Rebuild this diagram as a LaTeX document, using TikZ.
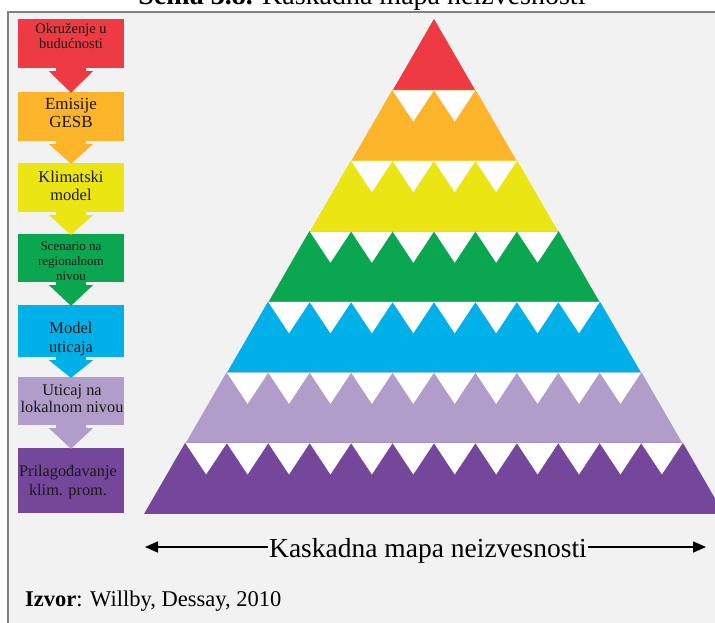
\documentclass[tikz,border=0pt]{standalone}
\usepackage{fontspec}
\setmainfont{Liberation Serif}
\usetikzlibrary{calc,arrows.meta}

\definecolor{cRed}{RGB}{238,59,67}
\definecolor{cOrange}{RGB}{252,181,43}
\definecolor{cYellow}{RGB}{236,229,20}
\definecolor{cGreen}{RGB}{10,166,80}
\definecolor{cBlue}{RGB}{0,176,233}
\definecolor{cLav}{RGB}{176,157,201}
\definecolor{cPurple}{RGB}{116,71,154}
\definecolor{frameGray}{RGB}{128,128,128}
\definecolor{panelBg}{RGB}{242,242,242}

\tikzset{
  stagebox/.style={rectangle, inner sep=0pt, minimum width=106pt},
  stagetext/.style={inner sep=0pt, align=center, text=black!90},
  fsz/.style 2 args={font={\fontsize{#1}{#2}\selectfont}},
  caparrow/.style={line width=1.6pt, -{Triangle[length=13pt,width=11pt]}},
}

% block arrow from the bottom of one stage box to the top of the next
\newcommand\stagearrow[3]{%
  \fill[#3] ($(#1.south)+(-15,0)$) -- ($(#1.south)+(15,0)$)
    -- ($(#1.south)+(15,3)$) -- ($(#1.south)+(22,3)$)
    -- ($(#2.north)+(0,1)$)
    -- ($(#1.south)+(-22,3)$) -- ($(#1.south)+(-15,3)$) -- cycle;}

\begin{document}
\begin{tikzpicture}[x=1pt,y=-1pt]
\useasboundingbox (0,0) rectangle (715,622);
\clip (0,0) rectangle (715,622);
\fill[white] (0,0) rectangle (715,622);

% caption above the panel
\node[anchor=base, inner sep=0pt, fsz={28}{30}] (title) at (362,4.5)
  {\textbf{Šema 3.8.} Kaskadna mapa neizvesnosti};

% panel
\draw[frameGray, line width=2pt, fill=panelBg] (8,12) rectangle (740,650);

% pyramid: seven bands, each topped by a row of white notches
\foreach \k/\c in {0/cRed,1/cOrange,2/cYellow,3/cGreen,4/cBlue,5/cLav,6/cPurple}{
  \pgfmathsetmacro\yt{20+70.57*\k}
  \pgfmathsetmacro\yb{20+70.57*(\k+1)}
  \pgfmathsetmacro\wt{41.43*\k}
  \pgfmathsetmacro\wb{41.43*(\k+1)}
  \fill[\c] (434-\wt-0.3,\yt-0.6) -- (434+\wt+0.3,\yt-0.6)
    -- (434+\wb,\yb) -- (434-\wb,\yb) -- cycle;
  \ifnum\k>0
    \pgfmathtruncatemacro\n{2*\k}
    \foreach \i in {1,...,\n}{
      \pgfmathsetmacro\xa{434-\wt+41.43*(\i-1)}
      \fill[white] (\xa,\yt-0.3) -- (\xa+41.43,\yt-0.3) -- (\xa+20.715,\yt+31) -- cycle;
    }
  \fi
}

% stage boxes
\node[stagebox, fill=cRed,    minimum height=49pt] (s1) at (71,43.5) {};
\node[stagebox, fill=cOrange, minimum height=49pt] (s2) at (71,116.5) {};
\node[stagebox, fill=cYellow, minimum height=49pt] (s3) at (71,187.5) {};
\node[stagebox, fill=cGreen,  minimum height=48pt] (s4) at (71,258) {};
\node[stagebox, fill=cBlue,   minimum height=52pt] (s5) at (71,331) {};
\node[stagebox, fill=cLav,    minimum height=48pt] (s6) at (71,401) {};
\node[stagebox, fill=cPurple, minimum height=65pt] (s7) at (71,480.5) {};

\stagearrow{s1}{s2}{cRed}
\stagearrow{s2}{s3}{cOrange}
\stagearrow{s3}{s4}{cYellow}
\stagearrow{s4}{s5}{cGreen}
\stagearrow{s5}{s6}{cBlue}
\stagearrow{s6}{s7}{cLav}

% stage labels
\node[stagetext, fsz={14.5}{15.5}] (t1) at (71,36) {Okruženje u\\ budućnosti};
\node[stagetext, fsz={17}{18}] (t2) at (71,113.4) {Emisije\\ GESB};
\node[stagetext, fsz={16.5}{18}] (t3) at (71,185.5) {Klimatski\\ model};
\node[stagetext, fsz={13}{15}] (t4) at (71,261.7) {Scenario na\\ regionalnom\\ nivou};
\node[stagetext, fsz={16.5}{18.5}] (t5) at (71,338.8) {Model\\ uticaja};
\node[stagetext, fsz={16.3}{17}] (t6) at (72,399) {Uticaj na\\ lokalnom nivou};
\node[stagetext, fsz={16.3}{19}] (t7) at (68,481.7) {Prilagođavanje\\ klim. prom.};

% width arrow under the pyramid
\node[anchor=base, inner sep=0pt, fsz={27.5}{30}] (cap) at (428,557)
  {Kaskadna mapa neizvesnosti};
\coordinate (la) at (145,547);
\coordinate (ra) at (706,547);
\draw[caparrow] ($(cap.west |- la)+(-1,0)$) -- (la);
\draw[caparrow] ($(cap.east |- ra)+(1,0)$) -- (ra);

% source
\node[anchor=base west, inner sep=0pt, fsz={22.5}{25}] (src) at (25,606)
  {\textbf{Izvor}: Willby, Dessay, 2010};
\end{tikzpicture}
\end{document}
